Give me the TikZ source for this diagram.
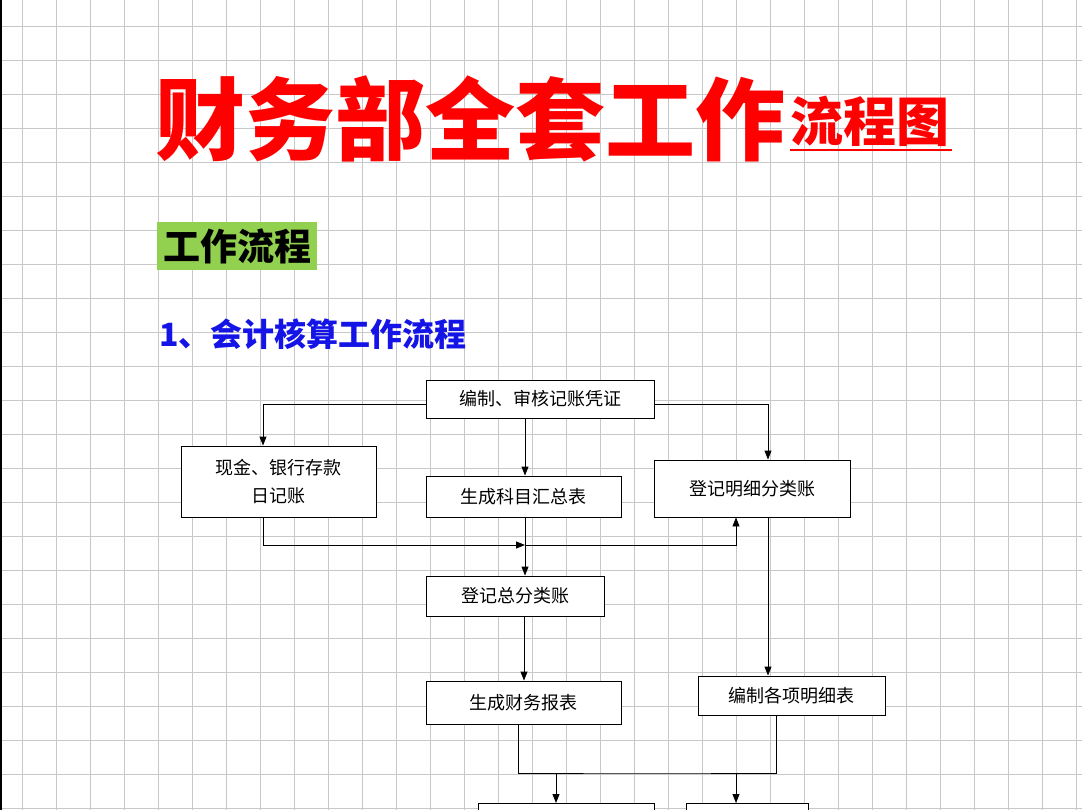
\documentclass[tikz,border=0pt]{standalone}
\usepackage{fontspec}
\setmainfont{Noto Sans CJK SC}
\usetikzlibrary{arrows.meta,positioning}
\tikzstyle{line} = [draw, -{Triangle[length=9pt,width=7pt]},line width=.9pt]
\tikzstyle{plain} = [draw, line width=.9pt]
\definecolor{gridGray}{RGB}{200,200,200}
\definecolor{hlGreen}{RGB}{146,208,80}
\definecolor{tBlue}{RGB}{20,20,230}

\begin{document}
\begin{tikzpicture}[x=1pt,y=-1pt,
    box/.style={
      draw,
      line width=.9pt,
      fill=white,
      align=center,
      font=\fontsize{18}{28}\selectfont,
      inner sep=0pt,
    },
  ]
  \useasboundingbox (0,0) rectangle (1082,810);
  % grid
  \foreach \x in {0,...,31} \draw[gridGray,line width=1pt] (22.5+34*\x,0) -- (22.5+34*\x,810);
  \foreach \y in {0,...,23} \draw[gridGray,line width=1pt] (0,26.7+34*\y) -- (1082,26.7+34*\y);
  \draw[line width=2pt] (1,0) -- (1,810);

  % titles
  \node[anchor=base west,text=red,inner sep=0pt,font=\fontsize{90}{94}\bfseries\selectfont] (title) at (155,154) {财务部全套工作};
  \node[anchor=base west,text=red,inner sep=0pt,font=\fontsize{53}{56}\bfseries\selectfont] (sub) at (790,142) {流程图};
  \draw[red,line width=2.5pt] (790,150) -- (952,150);
  \node[anchor=west,fill=hlGreen,minimum width=160pt,minimum height=48pt,inner sep=0pt,font=\fontsize{37}{40}\bfseries\selectfont] (work) at (157,246) {工作流程};
  \node[anchor=west,text=tBlue,inner sep=0pt,font=\fontsize{32}{36}\bfseries\selectfont] (acc) at (159,334) {1、会计核算工作流程};

  % boxes
  \node[box,minimum width=228pt,minimum height=38pt] (voucher) at (540,399) {编制、审核记账凭证};
  \node[box,minimum width=195pt,minimum height=71pt] (cash) at (278.5,481.5) {现金、银行存款\\日记账};
  \node[box,minimum width=195pt,minimum height=41pt] (summary) at (523.5,496.5) {生成科目汇总表};
  \node[box,minimum width=196pt,minimum height=57pt] (detail) at (752,488.5) {登记明细分类账};
  \node[box,minimum width=178pt,minimum height=40pt] (general) at (515,596) {登记总分类账};
  \node[box,minimum width=195pt,minimum height=43pt] (report) at (523.5,702.5) {生成财务报表};
  \node[box,minimum width=187pt,minimum height=39pt] (tables) at (791.5,695.5) {编制各项明细表};
  \node[box,minimum width=176pt,minimum height=40pt,anchor=north] (outA) at (566,803) {};
  \node[box,minimum width=122pt,minimum height=40pt,anchor=north] (outB) at (747,803) {};
  \coordinate (join) at (525,545);
  \coordinate (merge) at (647,773);

  % connectors
  \draw[line] (voucher.west |- 0,404) -| (cash.north -| 263,0);
  \draw[line] (voucher.east |- 0,404) -| (detail.north -| 768,0);
  \draw[line] (voucher.south -| 525,0) -- (summary.north -| 525,0);
  \draw[line] (summary.south -| 525,0) -- (general.north -| 525,0);
  \draw[line] (cash.south -| 263,0) |- (join);
  \draw[line] (join) -| (detail.south -| 736,0);
  \draw[line] (detail.south -| 768,0) -- (tables.north -| 768,0);
  \draw[line] (general.south -| 524,0) -- (report.north -| 524,0);
  \draw[plain] (report.south -| 518,0) |- (merge) -| (tables.south -| 776,0);
  \draw[line] (merge -| 556,0) -- (outA.north -| 556,0);
  \draw[line] (merge -| 736,0) -- (outB.north -| 736,0);
\end{tikzpicture}
\end{document}
